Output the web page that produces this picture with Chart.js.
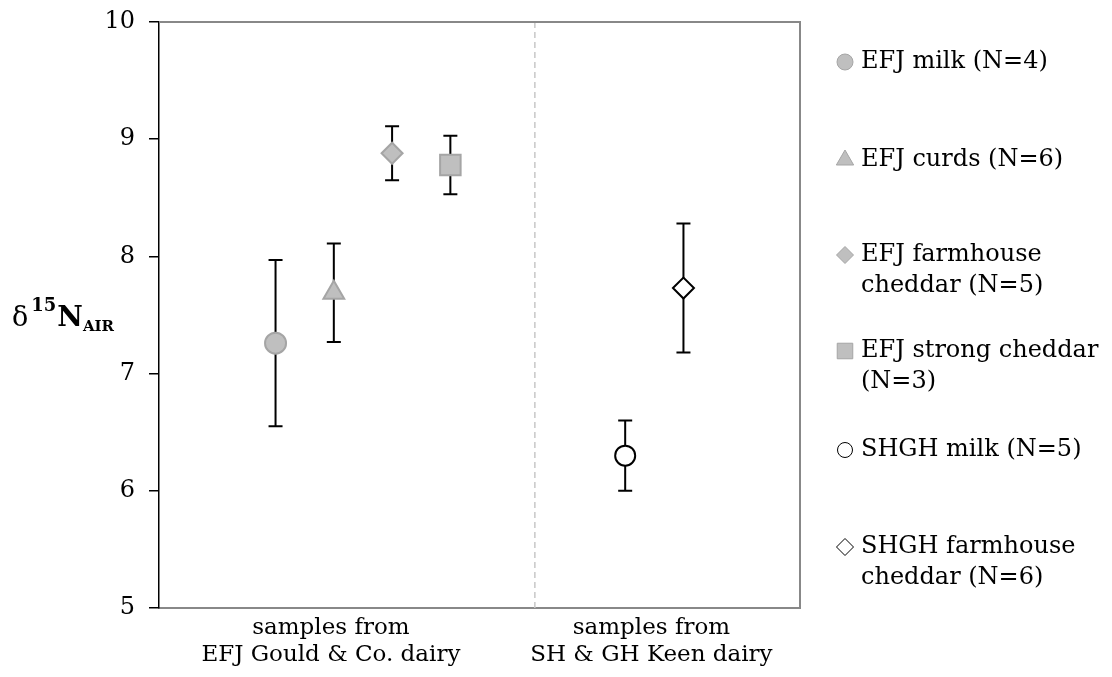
<!DOCTYPE html>
<html>
<head>
<meta charset="utf-8">
<script src="https://cdn.jsdelivr.net/npm/chart.js@4.4.1/dist/chart.umd.min.js"></script>
<style>
  html, body { margin: 0; padding: 0; background: #fff; }
  #wrap { width: 1112px; height: 677px; position: relative; }
</style>
</head>
<body>
<div id="wrap"><canvas id="chart"></canvas></div>
<script>
// series, one point each
const seriesNames = [
    ['EFJ milk (N=4)'],
    ['EFJ curds (N=6)'],
    ['EFJ farmhouse', 'cheddar (N=5)'],
    ['EFJ strong cheddar', '(N=3)'],
    ['SHGH milk (N=5)'],
    ['SHGH farmhouse', 'cheddar (N=6)']
];
const xPositions = [2, 3, 4, 5, 8, 9];
const meanValues = [7.26, 7.69, 8.88, 8.78, 6.30, 7.73];
const errorValues = [0.71, 0.42, 0.23, 0.25, 0.30, 0.55];

// categories under the x axis
const categoryLabels = [
    ['samples from', 'EFJ Gould & Co. dairy'],
    ['samples from', 'SH & GH Keen dairy']
];
const categoryPositions = [2.95, 8.45];
const dividerPosition = 6.45;
const yTicks = [5, 6, 7, 8, 9, 10];

const grayFill = '#bfbfbf';
const grayLine = '#a5a5a5';
const markerStyles = [
    { pointStyle: 'circle',   radius: 10.5, legendRadius: 8,  fill: grayFill, stroke: grayLine },
    { pointStyle: 'triangle', radius: 12, legendRadius: 10, fill: grayFill, stroke: grayLine },
    { pointStyle: 'rectRot',  radius: 10.5, legendRadius: 8.5, fill: grayFill, stroke: grayLine },
    { pointStyle: 'rect',     radius: 14.5, legendRadius: 11, fill: grayFill, stroke: grayLine },
    { pointStyle: 'circle',   radius: 10, legendRadius: 7.5, fill: '#ffffff', stroke: '#000000' },
    { pointStyle: 'rectRot',  radius: 10.5, legendRadius: 8.5, fill: '#ffffff', stroke: '#000000' }
];

const FONT = '"DejaVu Serif", "Liberation Serif", serif';

// dashed divider, plus the grey top and right frame
const framePlugin = {
    id: 'frame',
    beforeDatasetsDraw(chart) {
        const { ctx, chartArea: a, scales } = chart;
        ctx.save();
        const xd = scales.x.getPixelForValue(dividerPosition);
        ctx.strokeStyle = '#c8c8c8';
        ctx.lineWidth = 1.5;
        ctx.setLineDash([6, 4]);
        ctx.beginPath();
        ctx.moveTo(xd, a.top);
        ctx.lineTo(xd, a.bottom);
        ctx.stroke();
        ctx.setLineDash([]);
        ctx.strokeStyle = '#888888';
        ctx.lineWidth = 2;
        ctx.beginPath();
        ctx.moveTo(a.left, a.top);
        ctx.lineTo(a.right, a.top);
        ctx.lineTo(a.right, a.bottom);
        ctx.stroke();
        ctx.restore();
    }
};

// vertical error bars with caps, drawn under the markers
const errorBarPlugin = {
    id: 'errorBars',
    beforeDatasetsDraw(chart) {
        const { ctx, scales } = chart;
        ctx.save();
        ctx.strokeStyle = '#000';
        ctx.lineWidth = 2;
        meanValues.forEach((m, i) => {
            const x = scales.x.getPixelForValue(xPositions[i]);
            const yHi = scales.y.getPixelForValue(m + errorValues[i]);
            const yLo = scales.y.getPixelForValue(m - errorValues[i]);
            ctx.beginPath();
            ctx.moveTo(x, yHi);
            ctx.lineTo(x, yLo);
            ctx.moveTo(x - 7, yHi);
            ctx.lineTo(x + 7, yHi);
            ctx.moveTo(x - 7, yLo);
            ctx.lineTo(x + 7, yLo);
            ctx.stroke();
        });
        ctx.restore();
    }
};

// legend on the right, wrapped names
const sideLegendPlugin = {
    id: 'sideLegend',
    afterDraw(chart) {
        const { ctx } = chart;
        const rows = [62, 160, 255, 351, 450, 547];
        ctx.save();
        ctx.font = '24px ' + FONT;
        ctx.textBaseline = 'middle';
        ctx.fillStyle = '#000';
        seriesNames.forEach((lines, i) => {
            const s = markerStyles[i];
            ctx.fillStyle = s.fill;
            ctx.strokeStyle = s.stroke;
            Chart.helpers.drawPoint(ctx, {
                pointStyle: s.pointStyle,
                radius: s.legendRadius,
                rotation: 0,
                borderWidth: 2
            }, 845, rows[i]);
            ctx.fillStyle = '#000';
            lines.forEach((t, k) => ctx.fillText(t, 861, rows[i] + k * 31));
        });
        ctx.restore();
    }
};

// axis title: δ15N(AIR)
const yTitlePlugin = {
    id: 'yTitle',
    afterDraw(chart) {
        const { ctx } = chart;
        const base = 326;
        let x = 12;
        ctx.save();
        ctx.fillStyle = '#000';
        ctx.textBaseline = 'alphabetic';
        ctx.font = '27px ' + FONT;
        ctx.fillText('δ', x, base);
        x += ctx.measureText('δ').width + 3;
        ctx.font = 'bold 18px ' + FONT;
        ctx.fillText('15', x, base - 15);
        x += ctx.measureText('15').width + 1;
        ctx.font = 'bold 28px ' + FONT;
        ctx.fillText('N', x, base);
        x += ctx.measureText('N').width;
        ctx.font = 'bold 15px ' + FONT;
        ctx.fillText('AIR', x, base + 5);
        ctx.restore();
    }
};

const datasets = seriesNames.map((name, i) => ({
    label: name.join(' '),
    data: [{ x: xPositions[i], y: meanValues[i] }],
    pointStyle: markerStyles[i].pointStyle,
    pointRadius: markerStyles[i].radius,
    pointHoverRadius: markerStyles[i].radius,
    pointBackgroundColor: markerStyles[i].fill,
    pointBorderColor: markerStyles[i].stroke,
    pointBorderWidth: 2,
    showLine: false
}));

new Chart(document.getElementById('chart'), {
    type: 'scatter',
    data: { datasets },
    options: {
        responsive: true,
        maintainAspectRatio: false,
        animation: false,
        layout: { padding: { top: 22, right: 312, left: 0, bottom: 0 } },
        plugins: {
            legend: { display: false },
            tooltip: { enabled: false }
        },
        scales: {
            x: {
                type: 'linear',
                min: 0,
                max: 11,
                afterBuildTicks: scale => {
                    scale.ticks = categoryPositions.map(v => ({ value: v }));
                },
                afterFit: scale => {
                    scale.height = 69;
                    scale.paddingLeft = 0;
                    scale.paddingRight = 0;
                },
                ticks: {
                    autoSkip: false,
                    maxRotation: 0,
                    padding: 7,
                    color: '#000',
                    font: { family: FONT, size: 23, lineHeight: 1.15 },
                    callback: (value, index) => categoryLabels[index]
                },
                grid: { display: false, drawTicks: false },
                border: { display: true, color: '#888888', width: 2 }
            },
            y: {
                min: 5,
                max: 10,
                afterBuildTicks: scale => {
                    scale.ticks = yTicks.map(v => ({ value: v }));
                },
                afterFit: scale => {
                    // keep the plot top at the layout padding, labels may overhang
                    scale.width = 159;
                    scale.paddingTop = 0;
                    scale.paddingBottom = 0;
                },
                ticks: {
                    padding: 14,
                    color: '#000',
                    font: { family: FONT, size: 24 }
                },
                grid: {
                    drawOnChartArea: false,
                    drawTicks: true,
                    tickLength: 10,
                    color: '#000',
                    lineWidth: 1.5
                },
                border: { display: true, color: '#000', width: 1.5 }
            }
        }
    },
    plugins: [framePlugin, errorBarPlugin, sideLegendPlugin, yTitlePlugin]
});
</script>
</body>
</html>
